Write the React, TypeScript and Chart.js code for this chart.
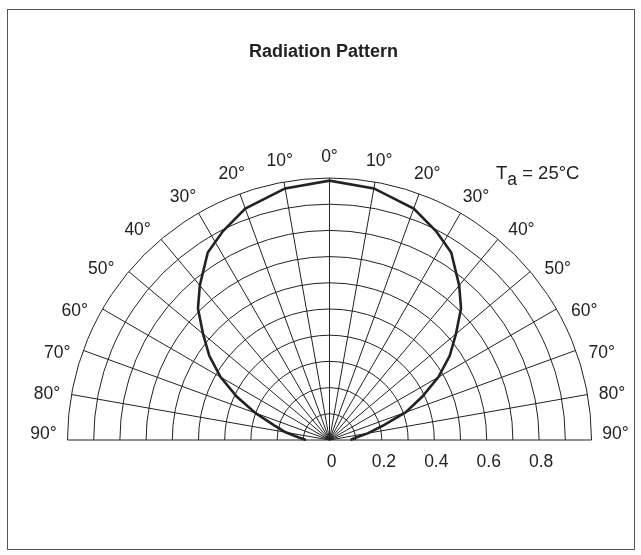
import React, { useEffect, useRef } from "react";
import { Chart, registerables } from "chart.js";

Chart.register(...registerables);

// ---- data ----
const chartTitle = "Radiation Pattern";
const conditionMain = "T";
const conditionSub = "a";
const conditionRest = " = 25°C";

const angleTicks = [-90, -80, -70, -60, -50, -40, -30, -20, -10, 0, 10, 20, 30, 40, 50, 60, 70, 80, 90];
const angleTickLabels = ["90°", "80°", "70°", "60°", "50°", "40°", "30°", "20°", "10°", "0°", "10°", "20°", "30°", "40°", "50°", "60°", "70°", "80°", "90°"];
const ringValues = [0.1, 0.2, 0.3, 0.4, 0.5, 0.6, 0.7, 0.8, 0.9, 1.0];
const radialTickValues = [0, 0.2, 0.4, 0.6, 0.8];
const radialTickLabels = ["0", "0.2", "0.4", "0.6", "0.8"];

const patternAngles = [-90, -85, -80, -75, -70, -65, -60, -55, -50, -45, -40, -33, -27, -20, -10, 0, 10, 20, 27, 33, 40, 45, 50, 55, 60, 65, 70, 75, 80, 85, 90];
const patternValues = [0.09, 0.12, 0.17, 0.22, 0.3, 0.39, 0.48, 0.56, 0.63, 0.71, 0.77, 0.853, 0.895, 0.94, 0.975, 0.99, 0.975, 0.94, 0.895, 0.853, 0.77, 0.71, 0.63, 0.56, 0.48, 0.39, 0.31, 0.21, 0.15, 0.1, 0.08];

const FONT = "'Liberation Sans', Arial, Helvetica, sans-serif";
const INK = "#222";
const rad = (d: number) => (d * Math.PI) / 180;

const polarGridPlugin = {
  id: "polarGrid",
  beforeDatasetsDraw(chart: any) {
    const ctx = chart.ctx;
    const xs = chart.scales.x;
    const ys = chart.scales.y;
    const cx = xs.getPixelForValue(0);
    const cy = ys.getPixelForValue(0);
    const R = xs.getPixelForValue(1) - cx;
    ctx.save();
    ctx.strokeStyle = INK;
    ctx.lineWidth = 1;
    ringValues.forEach((r) => {
      ctx.beginPath();
      ctx.arc(cx, cy, r * R, Math.PI, 2 * Math.PI);
      ctx.stroke();
    });
    angleTicks.forEach((a) => {
      ctx.beginPath();
      ctx.moveTo(cx, cy);
      ctx.lineTo(xs.getPixelForValue(Math.sin(rad(a))), ys.getPixelForValue(Math.cos(rad(a))));
      ctx.stroke();
    });
    ctx.restore();
  },
  afterDraw(chart: any) {
    const ctx = chart.ctx;
    const xs = chart.scales.x;
    const ys = chart.scales.y;
    const cx = xs.getPixelForValue(0);
    const cy = ys.getPixelForValue(0);
    ctx.save();
    ctx.fillStyle = INK;
    // title
    ctx.font = `bold 18px ${FONT}`;
    ctx.textAlign = "center";
    ctx.textBaseline = "middle";
    ctx.fillText(chartTitle, cx - 6, 52);
    // angle labels
    ctx.font = `17.5px ${FONT}`;
    const lr = 1.092;
    angleTicks.forEach((a, i) => {
      const abs = Math.abs(a);
      let shift = 0;
      if (abs > 25 && abs < 85) shift = 3 * Math.sin((Math.PI * (abs - 25)) / 60);
      const aa = Math.sign(a) * (abs + shift);
      const x = xs.getPixelForValue(lr * Math.sin(rad(aa)));
      let y = ys.getPixelForValue(lr * Math.cos(rad(aa))) + 3 * Math.cos(rad(a));
      if (abs === 90) y -= 6;
      ctx.fillText(angleTickLabels[i], x, y);
    });
    // radial tick labels
    radialTickValues.forEach((v, i) => {
      ctx.fillText(radialTickLabels[i], xs.getPixelForValue(v) + 2, cy + 22);
    });
    // condition label
    ctx.textAlign = "left";
    ctx.textBaseline = "alphabetic";
    let x0 = 496;
    const yb = 179;
    ctx.font = `18.5px ${FONT}`;
    ctx.fillText(conditionMain, x0, yb);
    x0 += ctx.measureText(conditionMain).width;
    ctx.font = `17.5px ${FONT}`;
    ctx.fillText(conditionSub, x0, yb + 6);
    x0 += ctx.measureText(conditionSub).width;
    ctx.font = `18.5px ${FONT}`;
    ctx.fillText(conditionRest, x0, yb);
    ctx.restore();
  },
};

export default function App() {
  const ref = useRef<HTMLCanvasElement | null>(null);
  useEffect(() => {
    if (!ref.current) return;
    const R = 262;
    const W = 641;
    const H = 555;
    const cxp = 329.5;
    const cyp = 440;
    const chart = new Chart(ref.current, {
      type: "scatter",
      data: {
        datasets: [
          {
            data: patternAngles.map((a, i) => ({
              x: patternValues[i] * Math.sin(rad(a)),
              y: patternValues[i] * Math.cos(rad(a)),
            })),
            showLine: true,
            borderColor: INK,
            borderWidth: 2.6,
            pointRadius: 0,
            tension: 0,
            fill: false,
          },
        ],
      },
      options: {
        animation: false,
        responsive: false,
        layout: { padding: 0 },
        plugins: { legend: { display: false }, tooltip: { enabled: false }, title: { display: false } },
        scales: {
          x: { type: "linear", display: false, min: -cxp / R, max: (W - cxp) / R },
          y: { type: "linear", display: false, min: -(H - cyp) / R, max: cyp / R },
        },
      },
      plugins: [polarGridPlugin],
    });
    return () => chart.destroy();
  }, []);
  return (
    <div>
      <canvas ref={ref} width={641} height={555} style={{ position: "fixed", left: 0, top: 0 }} />
      <div
        style={{
          position: "fixed",
          left: 7,
          top: 9,
          width: 628,
          height: 541,
          border: "1.5px solid #555",
          boxSizing: "border-box",
          pointerEvents: "none",
        }}
      />
    </div>
  );
}
